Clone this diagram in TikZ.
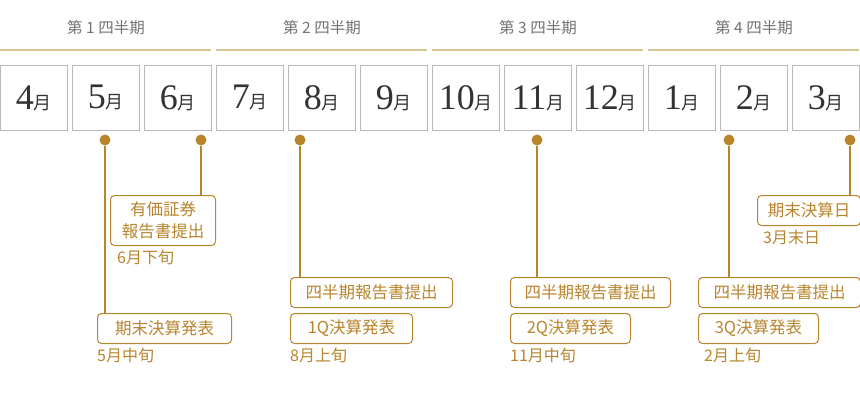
\documentclass[tikz,border=0pt]{standalone}
\usepackage{fontspec}
\setmainfont{Liberation Serif}
\newfontfamily\jp{Noto Sans CJK JP}
\usetikzlibrary{positioning}
\definecolor{gold}{HTML}{B8842C}
\definecolor{sand}{HTML}{D9C594}
\definecolor{ink}{HTML}{333333}
\tikzset{
  month/.style={draw=gray!55, line width=.8pt, minimum width=67pt, minimum height=65pt, inner sep=0pt, anchor=north west, text=ink},
  quarter/.style={font=\jp\fontsize{15.5}{15}\selectfont, text=gray!90!black},
  rule/.style={draw=sand, line width=1.6pt},
  dot/.style={circle, fill=gold, minimum size=11pt, inner sep=0pt},
  stem/.style={draw=gold, line width=1.2pt},
  event/.style={draw=gold, rounded corners=4pt, line width=1pt, inner sep=0pt, minimum height=30pt, anchor=north west, text=gold, font=\jp\fontsize{16.5}{22}\selectfont, align=center},
  when/.style={text=gold, font=\jp\fontsize{16}{16}\selectfont, anchor=north west, inner sep=0pt},
}
\newcommand{\mlabel}[1]{{\fontsize{36}{36}\selectfont #1}{\jp\fontsize{18}{18}\selectfont 月}}
\begin{document}
\begin{tikzpicture}[x=1pt, y=-1pt]
\useasboundingbox (0,0) rectangle (860,400);

% quarters
\foreach \q in {1,...,4}{
  \node[quarter] (q\q) at ({(\q-1)*216+106}, 28) {第 \q\ 四半期};
  \draw[rule] ({(\q-1)*216}, 50) -- ({(\q-1)*216+211}, 50);
}

% months
\foreach \m [count=\i from 0] in {4,5,6,7,8,9,10,11,12,1,2,3}{
  \node[month] (m\m) at ({\i*72}, 65) {\mlabel{\m}};
}

% dots
\node[dot] (d5) at (105,140) {};
\node[dot] (d6) at (201,140) {};
\node[dot] (d8) at (300,140) {};
\node[dot] (d11) at (537,140) {};
\node[dot] (d2) at (729,140) {};
\node[dot] (d3) at (850,140) {};

% events
\node[event, minimum width=105pt, minimum height=50pt] (yuho) at (110,195) {有価証券\\報告書提出};
\node[when] (t6) at (117,250) {6月下旬};
\node[event, minimum width=134pt] (kessan) at (97,313) {期末決算発表};
\node[when] (t5) at (97,348) {5月中旬};

\node[event, minimum width=162pt] (sh1) at (290,277) {四半期報告書提出};
\node[event, minimum width=122pt] (q1) at (290,313) {1Q決算発表};
\node[when] (t8) at (290,348) {8月上旬};

\node[event, minimum width=160pt] (sh2) at (510,277) {四半期報告書提出};
\node[event, minimum width=120pt] (q2) at (510,313) {2Q決算発表};
\node[when] (t11) at (510,348) {11月中旬};

\node[event, minimum width=162pt] (sh3) at (698,277) {四半期報告書提出};
\node[event, minimum width=120pt] (q3) at (698,313) {3Q決算発表};
\node[when] (t2) at (704,348) {2月上旬};

\node[event, minimum width=103pt] (kbi) at (757,195) {期末決算日};
\node[when] (t3) at (763,230) {3月末日};

% stems
\draw[stem] (d5) -- (d5 |- kessan.north);
\draw[stem] (d6) -- (d6 |- yuho.north);
\draw[stem] (d8) -- (d8 |- sh1.north);
\draw[stem] (d11) -- (d11 |- sh2.north);
\draw[stem] (d2) -- (d2 |- sh3.north);
\draw[stem] (d3) -- (d3 |- kbi.north);
\end{tikzpicture}
\end{document}
